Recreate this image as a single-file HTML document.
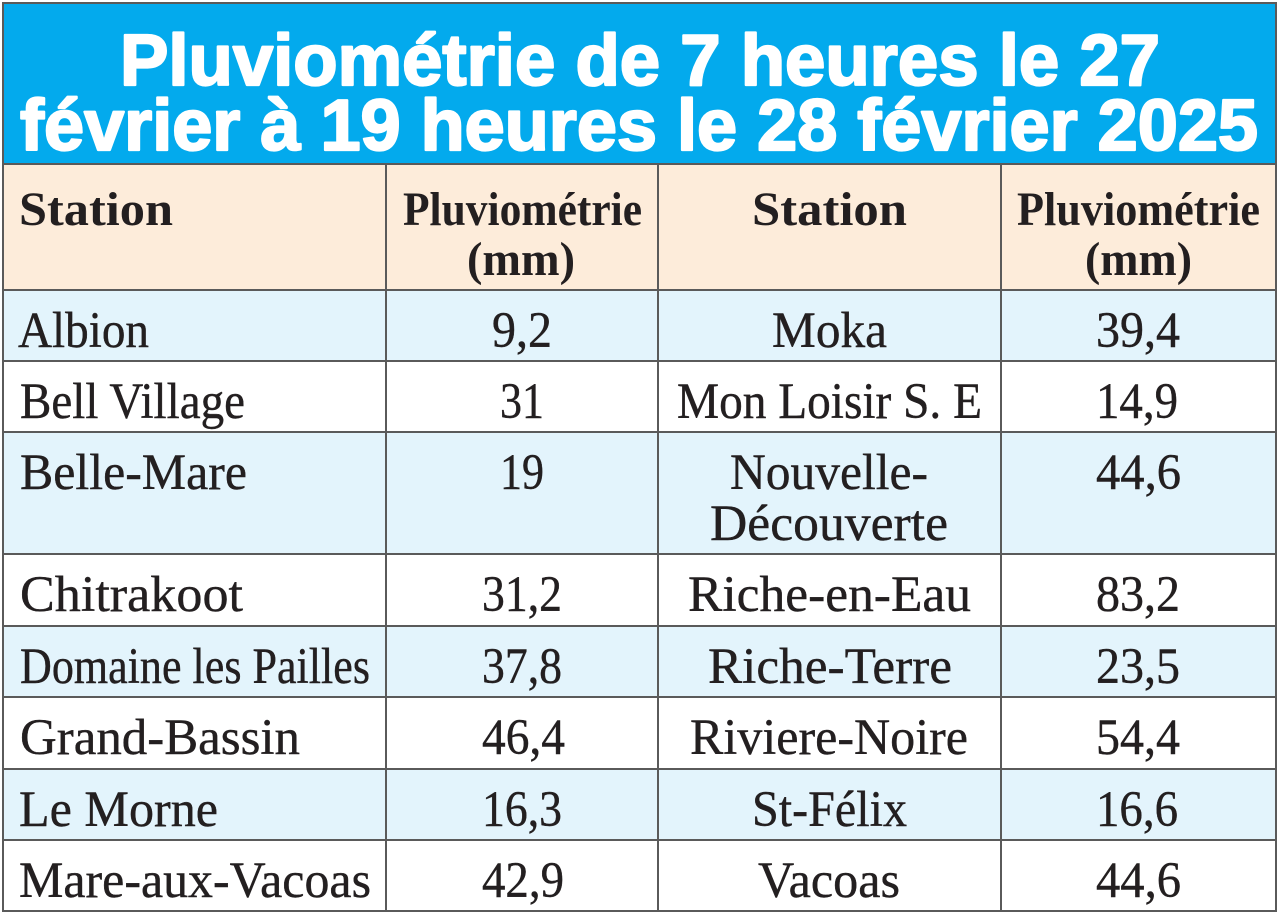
<!DOCTYPE html>
<html>
<head>
<meta charset="utf-8">
<style>
  html, body { margin: 0; padding: 0; background: #ffffff; }
  body { width: 1280px; height: 916px; overflow: hidden; }
  svg { display: block; }
  .t { font-family: "Liberation Sans", sans-serif; font-weight: bold; fill: #ffffff; font-size: 72px; stroke: #ffffff; stroke-width: 2.2px; stroke-linejoin: round; }
  .h { font-family: "Liberation Serif", serif; font-weight: bold; fill: #231f20; font-size: 48px; }
  .d { font-family: "Liberation Serif", serif; fill: #231f20; font-size: 51px; stroke: #231f20; stroke-width: 0.4px; }
</style>
</head>
<body>
<svg width="1280" height="916" viewBox="0 0 1280 916" xmlns="http://www.w3.org/2000/svg">
  <rect x="0" y="0" width="1280" height="916" fill="#ffffff"/>
  <!-- title band -->
  <rect x="3" y="3" width="1273" height="161" fill="#03aaed"/>
  <!-- header row -->
  <rect x="3" y="164" width="1273" height="126" fill="#fdecda"/>
  <!-- row backgrounds -->
  <rect x="3" y="290" width="1273" height="71" fill="#e3f4fc"/>
  <rect x="3" y="361" width="1273" height="71" fill="#ffffff"/>
  <rect x="3" y="432" width="1273" height="122" fill="#e3f4fc"/>
  <rect x="3" y="554" width="1273" height="72" fill="#ffffff"/>
  <rect x="3" y="626" width="1273" height="71" fill="#e3f4fc"/>
  <rect x="3" y="697" width="1273" height="72" fill="#ffffff"/>
  <rect x="3" y="769" width="1273" height="71" fill="#e3f4fc"/>
  <rect x="3" y="840" width="1273" height="71" fill="#ffffff"/>

  <!-- grid lines -->
  <g stroke="#5a5a5a" stroke-width="2" fill="none">
    <line x1="3" y1="164" x2="1276" y2="164"/>
    <line x1="3" y1="290" x2="1276" y2="290"/>
    <line x1="3" y1="361" x2="1276" y2="361"/>
    <line x1="3" y1="432" x2="1276" y2="432"/>
    <line x1="3" y1="554" x2="1276" y2="554"/>
    <line x1="3" y1="626" x2="1276" y2="626"/>
    <line x1="3" y1="697" x2="1276" y2="697"/>
    <line x1="3" y1="769" x2="1276" y2="769"/>
    <line x1="3" y1="840" x2="1276" y2="840"/>
    <line x1="386" y1="164" x2="386" y2="911"/>
    <line x1="658" y1="164" x2="658" y2="911"/>
    <line x1="1001" y1="164" x2="1001" y2="911"/>
    <rect x="3" y="3" width="1273" height="908"/>
  </g>

  <!-- title -->
  <text class="t" x="120" y="85" textLength="1040" lengthAdjust="spacingAndGlyphs">Pluviométrie de 7 heures le 27</text>
  <text class="t" x="20" y="150" textLength="1238" lengthAdjust="spacingAndGlyphs">février à 19 heures le 28 février 2025</text>

  <!-- header -->
  <text class="h" x="19" y="225" textLength="154" lengthAdjust="spacingAndGlyphs">Station</text>
  <text class="h" x="403" y="225" textLength="239" lengthAdjust="spacingAndGlyphs">Pluviométrie</text>
  <text class="h" x="467" y="275" textLength="108" lengthAdjust="spacingAndGlyphs">(mm)</text>
  <text class="h" x="752" y="225" textLength="155" lengthAdjust="spacingAndGlyphs">Station</text>
  <text class="h" x="1017" y="225" textLength="243" lengthAdjust="spacingAndGlyphs">Pluviométrie</text>
  <text class="h" x="1085" y="275" textLength="107" lengthAdjust="spacingAndGlyphs">(mm)</text>

  <!-- column 1 -->
  <text class="d" x="18" y="347" textLength="131" lengthAdjust="spacingAndGlyphs">Albion</text>
  <text class="d" x="20" y="418" textLength="225" lengthAdjust="spacingAndGlyphs">Bell Village</text>
  <text class="d" x="20" y="489" textLength="227" lengthAdjust="spacingAndGlyphs">Belle-Mare</text>
  <text class="d" x="20" y="611" textLength="223" lengthAdjust="spacingAndGlyphs">Chitrakoot</text>
  <text class="d" x="20" y="683" textLength="350" lengthAdjust="spacingAndGlyphs">Domaine les Pailles</text>
  <text class="d" x="20" y="754" textLength="280" lengthAdjust="spacingAndGlyphs">Grand-Bassin</text>
  <text class="d" x="19" y="826" textLength="199" lengthAdjust="spacingAndGlyphs">Le Morne</text>
  <text class="d" x="19" y="897" textLength="352" lengthAdjust="spacingAndGlyphs">Mare-aux-Vacoas</text>

  <!-- column 2 -->
  <text class="d" x="492" y="347" textLength="60" lengthAdjust="spacingAndGlyphs">9,2</text>
  <text class="d" x="500" y="418" textLength="44" lengthAdjust="spacingAndGlyphs">31</text>
  <text class="d" x="500" y="489" textLength="44" lengthAdjust="spacingAndGlyphs">19</text>
  <text class="d" x="482" y="611" textLength="80" lengthAdjust="spacingAndGlyphs">31,2</text>
  <text class="d" x="482" y="683" textLength="80" lengthAdjust="spacingAndGlyphs">37,8</text>
  <text class="d" x="482" y="754" textLength="83" lengthAdjust="spacingAndGlyphs">46,4</text>
  <text class="d" x="482" y="826" textLength="80" lengthAdjust="spacingAndGlyphs">16,3</text>
  <text class="d" x="482" y="897" textLength="82" lengthAdjust="spacingAndGlyphs">42,9</text>

  <!-- column 3 -->
  <text class="d" x="772" y="347" textLength="115" lengthAdjust="spacingAndGlyphs">Moka</text>
  <text class="d" x="677" y="418" textLength="305" lengthAdjust="spacingAndGlyphs">Mon Loisir S. E</text>
  <text class="d" x="730" y="489" textLength="198" lengthAdjust="spacingAndGlyphs">Nouvelle-</text>
  <text class="d" x="710" y="540" textLength="238" lengthAdjust="spacingAndGlyphs">Découverte</text>
  <text class="d" x="688" y="611" textLength="283" lengthAdjust="spacingAndGlyphs">Riche-en-Eau</text>
  <text class="d" x="708" y="683" textLength="244" lengthAdjust="spacingAndGlyphs">Riche-Terre</text>
  <text class="d" x="690" y="754" textLength="278" lengthAdjust="spacingAndGlyphs">Riviere-Noire</text>
  <text class="d" x="752" y="826" textLength="155" lengthAdjust="spacingAndGlyphs">St-Félix</text>
  <text class="d" x="758" y="897" textLength="142" lengthAdjust="spacingAndGlyphs">Vacoas</text>

  <!-- column 4 -->
  <text class="d" x="1096" y="347" textLength="84" lengthAdjust="spacingAndGlyphs">39,4</text>
  <text class="d" x="1096" y="418" textLength="82" lengthAdjust="spacingAndGlyphs">14,9</text>
  <text class="d" x="1096" y="489" textLength="85" lengthAdjust="spacingAndGlyphs">44,6</text>
  <text class="d" x="1096" y="611" textLength="84" lengthAdjust="spacingAndGlyphs">83,2</text>
  <text class="d" x="1096" y="683" textLength="84" lengthAdjust="spacingAndGlyphs">23,5</text>
  <text class="d" x="1096" y="754" textLength="84" lengthAdjust="spacingAndGlyphs">54,4</text>
  <text class="d" x="1096" y="826" textLength="82" lengthAdjust="spacingAndGlyphs">16,6</text>
  <text class="d" x="1096" y="897" textLength="85" lengthAdjust="spacingAndGlyphs">44,6</text>
</svg>
</body>
</html>
